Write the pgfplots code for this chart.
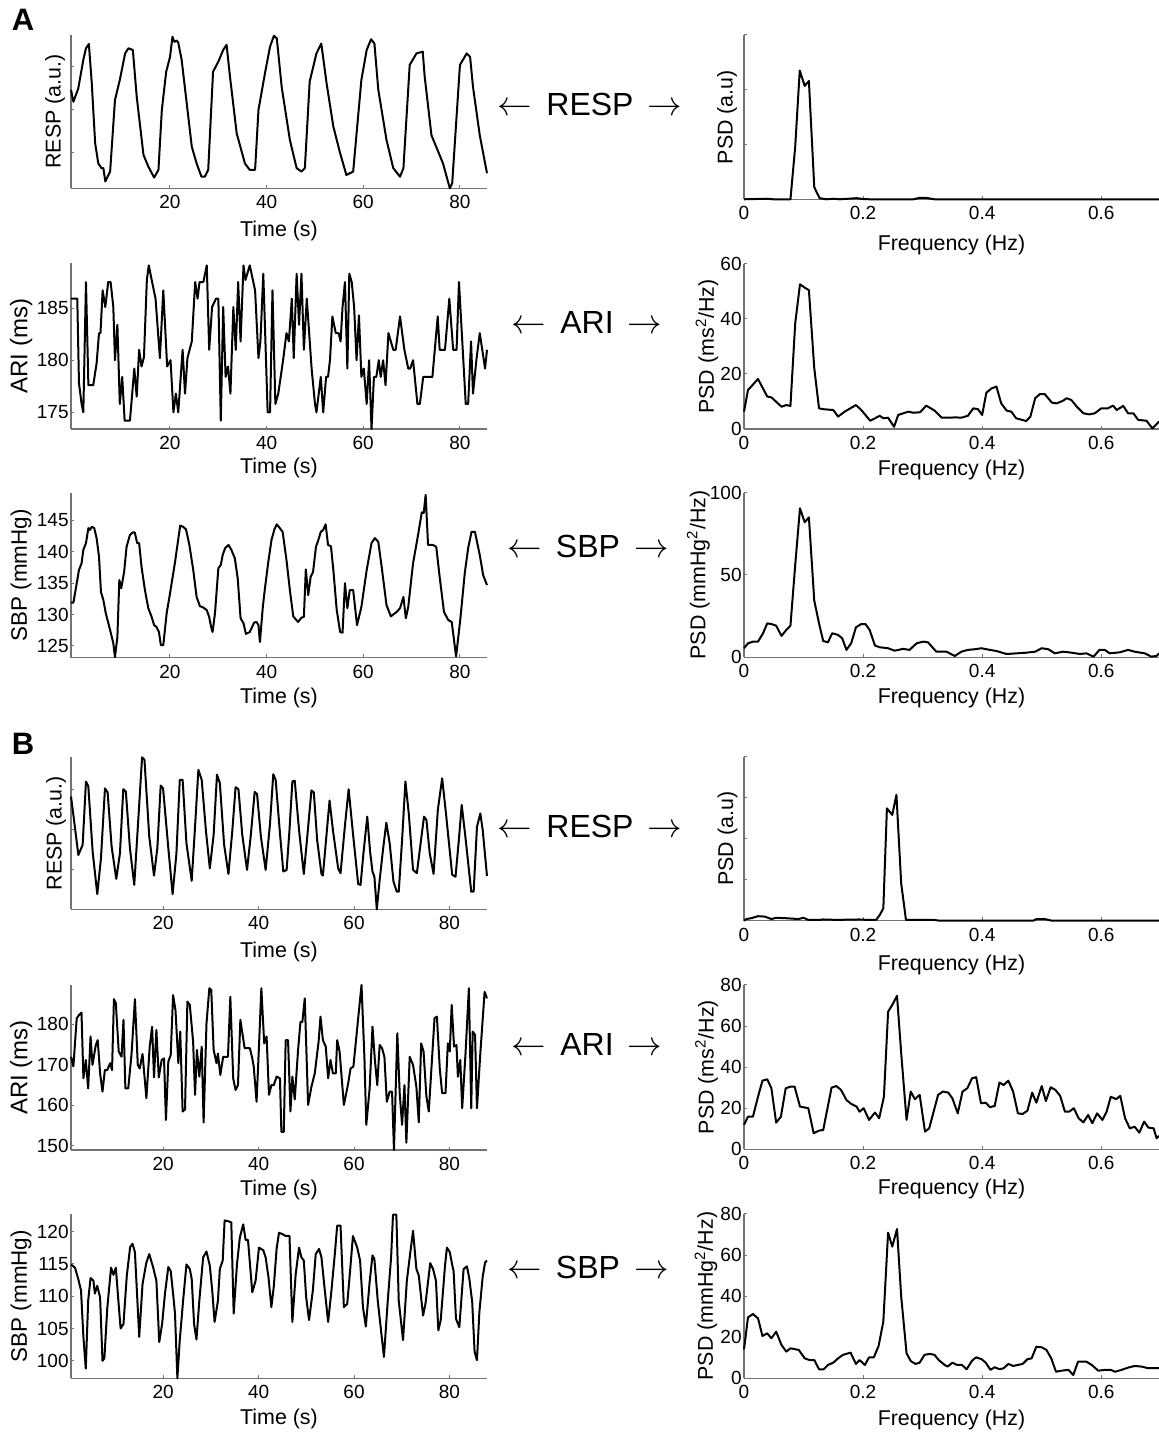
\documentclass[border=0pt]{standalone}
\usepackage{fontspec}
\setmainfont{Liberation Sans}
\usepackage{pgfplots}
\pgfplotsset{compat=1.18}
\definecolor{axgray}{gray}{0.45}
\newcommand{\tf}{\fontsize{10.7}{12}\selectfont}
\newcommand{\tkf}{\fontsize{9.5}{11}\selectfont}
\pgfplotsset{
 base/.style={scale only axis, anchor=south west,
   axis x line=bottom, axis y line=left,
   axis line style={-, draw=axgray, line width=0.6pt},
   tick align=inside, major tick length=1.6pt,
   tick style={draw=axgray, line width=0.5pt},
   clip=false,
   tick label style={font=\tkf}, label style={font=\tf},
   /pgf/number format/assume math mode=true,
   xlabel style={at={(axis description cs:0.5,0)}, anchor=center},
   ylabel style={anchor=center},
   yticklabel style={inner xsep=1pt},
 },
 leftA/.style={base, width=208pt, xmin=0, xmax=86.1, xtick={20.48,40.48,60.48,80.48}, xticklabels={20,40,60,80}, xlabel={Time (s)}},
 leftB/.style={base, width=208pt, xmin=0, xmax=87.2, xtick={19.33,39.33,59.33,79.33}, xticklabels={20,40,60,80}, xlabel={Time (s)}},
 rightax/.style={base, width=207.5pt, xmin=0, xmax=0.697, xtick={0,0.2,0.4,0.6}, xticklabels={0,0.2,0.4,0.6}, xlabel={Frequency (Hz)}},
 sig/.style={black, line width=1pt, line join=round, mark=none},
}
\begin{document}
\begin{tikzpicture}
\useasboundingbox (0,0) rectangle (579.5pt,717pt);

% ---------------- A ----------------
\node[font=\fontsize{15.5}{16}\selectfont\bfseries] at (11.5pt,707pt) {A};
\node[font=\fontsize{16}{18}\selectfont] at (295pt,664.5pt) {$\leftarrow$\hspace{7pt}RESP\hspace{7pt}$\rightarrow$};
\node[font=\fontsize{16}{18}\selectfont] at (293.5pt,555.5pt) {$\leftarrow$\hspace{7pt}ARI\hspace{7pt}$\rightarrow$};
\node[font=\fontsize{16}{18}\selectfont] at (294pt,444pt) {$\leftarrow$\hspace{7pt}SBP\hspace{7pt}$\rightarrow$};

% A RESP time
\begin{axis}[leftA, at={(35.5pt,622.85pt)}, height=76.65pt, ymin=0.16, ymax=3.74, ytick={1,2,3}, yticklabels={}, ylabel={RESP (a.u.)}, ylabel style={at={(axis description cs:-0.0385,0.5)}}, xlabel style={yshift=-21.35pt}]
\addplot[sig] coordinates {(0,2.46)(0.5,2.18)(1.5,2.49)(2.55,3.16)(3.1,3.43)(3.7,3.53)(4.3,2.61)(5.0,1.21)(5.65,0.74)(6.3,0.63)(6.7,0.63)(7.1,0.32)(8.1,0.55)(9.1,2.22)(10.1,2.69)(11.2,3.31)(11.9,3.43)(12.8,3.39)(13.6,2.30)(15.0,0.94)(16.0,0.67)(17.2,0.41)(18.1,0.59)(18.8,1.99)(19.7,2.88)(20.5,3.23)(21.0,3.70)(21.4,3.58)(21.9,3.61)(22.2,3.56)(22.9,3.16)(25.0,1.13)(26.0,0.74)(27.0,0.43)(27.7,0.43)(28.4,0.59)(29.4,2.88)(30.5,3.12)(31.5,3.39)(32.2,3.51)(32.9,2.77)(34.3,1.44)(36.0,0.74)(37.0,0.59)(38.1,0.59)(38.8,1.99)(40.2,2.88)(41.2,3.47)(42.0,3.72)(42.6,3.66)(43.6,2.53)(45.3,1.29)(46.7,0.63)(47.7,0.55)(48.4,0.63)(49.4,2.65)(50.8,3.31)(51.8,3.54)(52.9,2.61)(54.3,1.60)(55.7,0.98)(57.0,0.47)(58.4,0.55)(60.1,2.69)(61.2,3.39)(62.1,3.64)(62.8,3.54)(63.6,2.46)(65.3,1.29)(66.7,0.63)(68.1,0.43)(68.8,0.63)(70.1,3.04)(71.5,3.31)(72.8,3.35)(73.2,2.77)(74.6,1.40)(77.0,0.74)(78.4,0.16)(78.9,0.28)(80.5,3.04)(81.9,3.31)(82.6,3.23)(83.2,2.53)(84.6,1.40)(86.1,0.51)};
\end{axis}

% A RESP PSD
\begin{axis}[rightax, at={(372pt,617.35pt)}, height=82.15pt, ymin=0, ymax=3, ytick={0,1,2,3}, yticklabels={}, ylabel={PSD (a.u)}, ylabel style={at={(axis description cs:-0.041,0.5)}}, xlabel style={yshift=-22.85pt}]
\addplot[sig] coordinates {(0,0)(0.0375,0.01)(0.049,0)(0.078,0)(0.086,0.96)(0.0936,2.35)(0.102,2.07)(0.109,2.16)(0.118,0.22)(0.127,0.02)(0.138,0)(0.15,0.01)(0.161,0)(0.189,0.02)(0.2,0.005)(0.211,0)(0.284,0)(0.295,0.025)(0.306,0.025)(0.32,0)(0.697,0)};
\end{axis}

% A ARI time
\begin{axis}[leftA, at={(35.5pt,502.5pt)}, height=82.85pt, ymin=173.4, ymax=189.3, ytick={175,180,185}, yticklabels={175,180,185}, ylabel={ARI (ms)}, ylabel style={at={(axis description cs:-0.12,0.5)}, font=\fontsize{12}{14}\selectfont}, xlabel style={yshift=-19.65pt}]
\addplot[sig] coordinates {(0,185.9)(1.3,185.9)(1.65,177.8)(2.2,175.8)(2.55,175.0)(3.1,187.5)(3.6,177.6)(4.6,177.6)(5.3,179.7)(5.8,182.6)(6.1,182.6)(6.55,186.7)(7.1,185.1)(7.7,187.5)(8.2,187.5)(8.76,185.1)(9.1,180.0)(9.6,183.4)(10.1,175.8)(10.6,178.4)(11.1,174.2)(12.2,174.2)(13.1,179.2)(13.6,176.5)(14.1,181.0)(14.6,179.4)(15.1,180.3)(15.7,187.7)(16.1,189.1)(16.7,187.7)(17.5,185.9)(18.4,180.2)(19.1,186.7)(19.9,179.4)(20.6,180.0)(21.2,175.0)(21.7,176.8)(22.2,175.0)(23.1,181.0)(23.6,176.8)(24.1,180.2)(25.0,181.8)(25.7,187.5)(26.2,185.9)(26.6,187.5)(27.4,187.5)(28.1,189.1)(28.6,181.0)(29.2,185.1)(30.0,185.9)(30.5,185.9)(31.0,174.2)(31.5,185.1)(32.0,178.4)(32.5,179.4)(33.0,176.8)(33.6,185.1)(34.1,181.0)(34.6,187.5)(35.1,181.8)(35.7,189.1)(36.1,187.7)(37.0,189.1)(38.1,186.7)(38.8,180.2)(39.2,181.8)(39.8,188.3)(40.7,175.0)(41.2,175.0)(41.7,186.7)(42.3,175.8)(42.9,176.8)(43.9,180.0)(44.6,182.6)(45.1,181.8)(45.7,185.9)(46.1,180.2)(46.7,188.3)(47.2,183.4)(47.7,188.3)(48.2,181.0)(48.8,185.9)(49.8,179.2)(50.5,175.8)(50.8,175.0)(51.7,178.4)(52.2,175.0)(52.8,178.4)(53.2,178.4)(53.6,180.0)(54.1,184.2)(54.8,182.6)(55.4,182.6)(55.8,181.8)(56.2,185.1)(56.7,187.5)(57.2,179.2)(57.6,188.3)(58.1,187.5)(58.6,185.1)(59.1,180.0)(59.6,184.3)(60.1,178.4)(60.6,179.2)(61.2,175.8)(61.7,180.0)(62.2,173.4)(62.7,178.4)(63.2,178.4)(63.7,180.0)(64.1,178.4)(64.6,180.0)(65.1,177.6)(65.7,182.6)(66.7,181.0)(67.2,181.0)(68.1,184.2)(69.0,181.0)(69.8,179.2)(70.2,179.2)(70.8,180.0)(71.7,175.8)(72.2,175.8)(72.9,178.4)(74.8,178.4)(75.9,184.2)(76.3,181.0)(77.4,181.0)(78.3,185.9)(79.1,181.0)(79.8,181.0)(80.3,187.5)(81.2,180.0)(81.7,175.8)(82.2,175.8)(82.8,181.8)(83.2,176.8)(83.9,180.0)(84.6,182.6)(85.7,179.2)(86.1,181.0)};
\end{axis}

% A ARI PSD
\begin{axis}[rightax, at={(372pt,502.5pt)}, height=82.5pt, ymin=0, ymax=60, ytick={0,20,40,60}, yticklabels={0,20,40,60}, ylabel={PSD (ms\textsuperscript{2}/Hz)}, ylabel style={at={(axis description cs:-0.0892,0.5)}}, xlabel style={yshift=-20.5pt}]
\addplot[sig] coordinates {(0,6.3)(0.0067,14.2)(0.012,15.4)(0.0235,18.2)(0.039,11.8)(0.046,11.5)(0.054,9.9)(0.063,8.1)(0.071,8.7)(0.078,8.4)(0.086,38.4)(0.094,52.6)(0.102,51.4)(0.109,50.5)(0.118,22.1)(0.126,7.5)(0.133,7.2)(0.15,6.9)(0.158,4.5)(0.169,6.3)(0.188,8.7)(0.197,6.9)(0.212,3.0)(0.228,4.8)(0.234,3.9)(0.242,4.1)(0.252,0.8)(0.259,5.1)(0.276,6.3)(0.284,5.9)(0.296,6.1)(0.306,8.5)(0.32,6.7)(0.332,4.1)(0.357,4.2)(0.365,4.1)(0.376,4.8)(0.385,7.5)(0.393,7.2)(0.4,5.1)(0.407,13.2)(0.416,14.8)(0.424,15.4)(0.432,9.3)(0.441,6.7)(0.449,6.3)(0.457,3.9)(0.474,2.9)(0.481,4.5)(0.489,11.2)(0.497,12.7)(0.505,12.7)(0.517,9.6)(0.525,9.3)(0.536,10.3)(0.542,11.2)(0.55,10.5)(0.559,8.1)(0.57,5.7)(0.58,5.3)(0.589,5.7)(0.6,7.5)(0.611,7.5)(0.62,8.5)(0.626,6.9)(0.637,8.4)(0.645,5.7)(0.654,5.7)(0.662,3.3)(0.676,3.0)(0.686,0.2)(0.697,2.7)};
\end{axis}

% A SBP time
\begin{axis}[leftA, at={(35.5pt,388.15pt)}, height=82.35pt, ymin=123.1, ymax=149.4, ytick={125,130,135,140,145}, yticklabels={125,130,135,140,145}, ylabel={SBP (mmHg)}, ylabel style={at={(axis description cs:-0.12,0.5)}, font=\fontsize{11.2}{13}\selectfont}, xlabel style={yshift=-20.3pt}]
\addplot[sig] coordinates {(0,131.9)(0.5,131.9)(1.3,135.5)(1.65,137.1)(2.2,138.2)(2.55,140.3)(3.1,141.4)(3.6,143.8)(3.9,143.5)(4.3,144.0)(4.8,143.8)(5.3,142.2)(5.8,139.2)(6.2,133.6)(6.7,132.3)(7.2,130.2)(8.1,127.5)(8.76,125.4)(9.1,123.2)(9.6,126.4)(10.0,135.5)(10.4,134.2)(11.0,136.8)(11.5,140.8)(12.2,142.7)(12.8,143.1)(13.2,143.1)(13.7,141.4)(14.1,141.4)(14.6,137.6)(15.3,133.9)(16.0,131.0)(16.7,129.6)(17.2,128.3)(17.7,128.0)(18.2,127.2)(18.6,125.1)(19.1,125.1)(19.8,130.2)(20.5,133.4)(21.5,138.2)(22.6,144.2)(23.2,144.0)(23.8,143.6)(24.5,141.1)(25.3,137.1)(26.0,132.8)(26.7,131.3)(27.2,131.2)(28.1,130.7)(28.6,129.6)(29.0,128.0)(29.3,127.2)(29.8,130.2)(30.5,137.4)(31.0,137.9)(31.4,139.5)(31.9,140.6)(32.6,141.1)(33.2,140.3)(33.9,139.0)(34.5,135.8)(35.1,129.4)(35.7,128.6)(36.2,126.9)(37.0,127.2)(37.9,128.7)(38.4,128.8)(38.8,128.3)(39.1,125.6)(39.7,131.2)(40.1,133.9)(40.8,138.2)(41.5,141.9)(42.1,143.6)(42.6,144.4)(43.2,143.8)(43.8,143.2)(44.6,138.7)(45.3,133.9)(46.0,129.7)(47.0,128.8)(47.7,129.5)(48.2,129.6)(48.6,137.2)(49.1,133.1)(49.6,136.0)(50.1,136.8)(50.7,140.8)(51.2,141.9)(51.7,143.2)(52.2,143.5)(52.7,144.4)(53.2,141.1)(53.8,140.9)(54.3,137.1)(55.0,130.7)(55.7,127.2)(56.2,127.1)(56.7,135.0)(57.2,131.0)(57.7,133.9)(58.4,133.9)(59.2,128.3)(60.1,131.2)(61.2,137.1)(62.2,141.4)(62.9,142.2)(63.6,141.6)(64.3,137.6)(65.3,131.5)(66.2,129.7)(67.4,130.4)(68.1,131.0)(68.8,132.8)(69.3,129.4)(69.8,131.2)(70.8,138.2)(71.9,143.0)(72.6,146.3)(73.0,146.2)(73.4,149.1)(73.9,141.1)(74.9,141.1)(75.6,140.8)(76.3,136.0)(77.2,130.4)(78.1,129.1)(78.8,128.8)(79.7,123.3)(80.6,129.4)(81.5,136.6)(82.2,140.6)(82.9,143.2)(83.6,143.2)(84.6,139.5)(85.3,136.3)(86.1,134.7)};
\end{axis}

% A SBP PSD
\begin{axis}[rightax, at={(372pt,388.35pt)}, height=82.3pt, ymin=0, ymax=100, ytick={0,50,100}, yticklabels={0,50,100}, ylabel={PSD (mmHg\textsuperscript{2}/Hz)}, ylabel style={at={(axis description cs:-0.11,0.5)}}, xlabel style={yshift=-20.5pt}]
\addplot[sig] coordinates {(0,5.5)(0.0067,8.5)(0.015,9.5)(0.0235,9.5)(0.032,14.6)(0.039,20.6)(0.046,20.2)(0.054,19.2)(0.063,13.0)(0.071,16.6)(0.078,19.2)(0.086,56.1)(0.094,90.5)(0.102,82.0)(0.109,85.0)(0.118,34.4)(0.126,20.6)(0.133,9.9)(0.141,9.1)(0.148,14.6)(0.158,13.6)(0.165,11.5)(0.172,4.5)(0.18,8.5)(0.188,18.2)(0.197,20.2)(0.204,20.2)(0.211,16.6)(0.22,7.1)(0.228,6.1)(0.242,5.5)(0.253,4.0)(0.267,5.1)(0.278,4.5)(0.29,8.5)(0.301,9.5)(0.309,9.1)(0.323,3.4)(0.34,3.4)(0.354,0.8)(0.365,3.4)(0.376,4.5)(0.388,4.9)(0.399,5.5)(0.407,4.9)(0.424,3.8)(0.441,2.0)(0.458,2.4)(0.474,2.8)(0.489,3.4)(0.5,5.5)(0.511,4.9)(0.522,2.4)(0.536,3.4)(0.55,2.8)(0.564,2.0)(0.575,2.4)(0.587,0.4)(0.597,4.5)(0.606,4.5)(0.614,2.4)(0.631,3.0)(0.645,4.5)(0.656,3.4)(0.673,2.4)(0.684,0.4)(0.693,0.8)(0.697,2.4)};
\end{axis}

% ---------------- B ----------------
\node[font=\fontsize{15.5}{16}\selectfont\bfseries] at (11.5pt,345pt) {B};
\node[font=\fontsize{16}{18}\selectfont] at (295pt,304pt) {$\leftarrow$\hspace{7pt}RESP\hspace{7pt}$\rightarrow$};
\node[font=\fontsize{16}{18}\selectfont] at (293.5pt,195pt) {$\leftarrow$\hspace{7pt}ARI\hspace{7pt}$\rightarrow$};
\node[font=\fontsize{16}{18}\selectfont] at (294pt,83.5pt) {$\leftarrow$\hspace{7pt}SBP\hspace{7pt}$\rightarrow$};

% B RESP time
\begin{axis}[leftB, at={(35.5pt,262.35pt)}, height=76pt, ymin=0.025, ymax=3.79, ytick={1,2,3}, yticklabels={}, ylabel={RESP (a.u.)}, ylabel style={at={(axis description cs:-0.036,0.5)}}, xlabel style={yshift=-21.2pt}]
\addplot[sig] coordinates {(0,2.82)(0.63,2.24)(1.54,1.37)(2.44,1.62)(3.14,3.19)(3.63,3.07)(4.54,1.45)(5.51,0.40)(6.28,1.29)(7.12,3.02)(7.68,2.92)(8.51,1.58)(9.49,0.78)(10.26,1.41)(10.96,3.0)(11.5,2.94)(12.35,1.54)(13.26,0.63)(14.1,2.24)(14.9,3.79)(15.4,3.73)(16.4,1.83)(17.4,0.86)(18.1,1.54)(18.8,3.09)(19.3,3.02)(20.4,1.54)(21.3,0.40)(22.1,1.41)(22.8,3.23)(23.4,3.23)(24.2,1.66)(25.3,0.73)(25.96,1.99)(26.7,3.48)(27.4,3.23)(28.3,1.95)(29.1,1.04)(29.9,1.87)(30.6,3.36)(31.2,3.15)(32.1,1.62)(33.0,0.90)(33.8,1.95)(34.5,3.05)(35.1,3.0)(35.9,1.87)(36.9,1.0)(37.7,1.87)(38.5,2.93)(39.0,2.88)(39.8,1.83)(40.8,1.0)(41.7,2.12)(42.4,3.37)(42.9,3.23)(43.8,1.91)(44.5,0.96)(45.2,1.0)(45.8,1.99)(46.4,3.19)(46.9,3.21)(47.8,1.99)(48.8,0.90)(49.5,1.79)(50.4,2.97)(50.9,2.92)(51.6,1.74)(52.5,0.90)(52.8,0.86)(53.5,1.79)(54.2,2.72)(54.9,1.99)(56.0,1.04)(56.5,0.92)(57.4,2.07)(58.2,3.0)(59.1,1.91)(60.2,0.65)(60.7,0.63)(61.3,1.41)(62.1,2.32)(62.7,1.45)(63.2,0.96)(63.6,0.83)(64.1,0.025)(64.7,0.75)(65.4,1.50)(66.1,2.17)(66.8,1.66)(67.6,0.71)(68.3,0.46)(68.7,0.46)(69.4,1.74)(70.1,3.19)(70.8,2.40)(71.7,1.0)(72.5,0.92)(73.2,1.58)(74.0,2.32)(74.5,2.24)(75.2,1.41)(76.0,0.90)(76.9,2.49)(77.8,3.27)(78.6,2.40)(79.9,0.88)(80.6,0.83)(81.3,1.74)(81.9,2.61)(82.7,1.79)(83.9,0.46)(84.4,0.46)(85.1,2.07)(85.8,2.40)(86.3,1.99)(87.2,0.85)};
\end{axis}

% B RESP PSD
\begin{axis}[rightax, at={(372pt,256.65pt)}, height=82pt, ymin=0, ymax=4, ytick={0,1,2,3,4}, yticklabels={}, ylabel={PSD (a.u)}, ylabel style={at={(axis description cs:-0.0398,0.5)}}, xlabel style={yshift=-22.15pt}]
\addplot[sig] coordinates {(0,0)(0.004,0.04)(0.012,0.06)(0.0235,0.11)(0.035,0.10)(0.046,0.04)(0.054,0.07)(0.071,0.06)(0.091,0.04)(0.1,0.07)(0.108,0.02)(0.127,0.02)(0.133,0.03)(0.155,0.02)(0.194,0.03)(0.206,0.02)(0.222,0.02)(0.228,0.14)(0.234,0.30)(0.24,2.74)(0.249,2.58)(0.256,3.07)(0.264,0.91)(0.272,0.02)(0.284,0.02)(0.318,0.02)(0.329,0)(0.486,0)(0.491,0.04)(0.505,0.04)(0.517,0)(0.697,0)};
\end{axis}

% B ARI time
\begin{axis}[leftB, at={(35.5pt,142pt)}, height=82.5pt, ymin=149.0, ymax=189.7, ytick={150,160,170,180}, yticklabels={150,160,170,180}, ylabel={ARI (ms)}, ylabel style={at={(axis description cs:-0.12,0.5)}, font=\fontsize{12}{14}\selectfont}, xlabel style={yshift=-20pt}]
\addplot[sig] coordinates {(0,172.0)(0.5,169.6)(1.2,181.5)(1.7,182.3)(2.2,182.9)(2.6,166.7)(3.1,171.2)(3.6,164.2)(4.1,177.0)(4.5,170.0)(5.2,174.9)(5.6,176.1)(6.1,167.9)(6.6,163.4)(7.1,168.7)(7.6,168.7)(8.2,170.4)(8.6,168.7)(9.0,186.2)(9.4,185.2)(10.0,173.3)(10.6,172.0)(11.0,181.1)(11.4,164.2)(12.0,164.2)(12.7,172.8)(13.4,186.2)(14.0,170.0)(14.4,169.1)(15.0,172.7)(15.8,161.8)(16.5,174.5)(17.0,179.4)(17.4,166.9)(17.9,178.6)(18.4,166.9)(19.0,171.2)(19.5,171.6)(19.9,156.4)(20.4,170.8)(20.9,172.4)(21.4,187.2)(21.9,183.5)(22.5,170.4)(22.9,178.2)(23.4,158.5)(23.9,159.0)(24.4,185.6)(24.9,184.8)(25.6,175.7)(26.0,162.6)(26.4,173.7)(26.9,167.1)(27.4,174.5)(27.8,155.8)(28.4,180.2)(29.0,188.9)(29.4,188.5)(29.9,173.7)(30.5,170.4)(30.8,172.8)(31.3,167.5)(31.9,172.0)(32.9,172.0)(33.4,186.8)(34.0,166.7)(34.5,163.8)(35.0,165.0)(35.5,181.1)(36.4,174.1)(37.5,174.1)(38.0,171.6)(38.3,169.6)(38.9,160.9)(39.4,174.5)(39.9,188.9)(40.5,175.3)(41.0,177.0)(41.5,162.6)(42.0,165.0)(42.5,165.0)(43.1,167.1)(43.8,166.7)(44.1,153.5)(44.6,153.5)(45.0,176.1)(45.5,176.1)(46.0,158.5)(46.4,167.1)(46.9,161.5)(47.6,173.7)(48.1,180.6)(48.5,180.6)(49.0,186.4)(49.7,160.1)(50.4,164.6)(51.1,167.9)(51.9,175.7)(52.3,181.9)(52.8,176.1)(53.4,174.5)(53.9,166.7)(54.4,171.2)(54.9,167.9)(55.5,167.9)(55.8,176.1)(56.3,173.3)(57.2,160.1)(58.1,165.4)(58.6,169.1)(59.2,169.6)(60.2,181.5)(60.9,189.7)(61.5,172.0)(61.9,155.2)(62.6,164.2)(63.2,179.4)(63.7,171.2)(64.2,165.0)(64.7,174.9)(65.2,174.1)(65.7,172.0)(66.2,160.9)(66.8,163.4)(67.3,163.4)(67.7,149.0)(68.4,177.8)(68.9,163.0)(69.4,155.2)(69.9,165.0)(70.3,150.8)(71.0,172.0)(71.7,170.0)(72.4,164.6)(72.9,155.8)(73.4,175.3)(73.9,173.3)(74.5,162.2)(75.0,158.5)(76.2,181.5)(76.7,181.9)(77.3,169.1)(77.8,163.0)(78.5,163.0)(79.0,175.3)(79.4,173.3)(79.8,184.8)(80.3,174.5)(80.8,174.9)(81.1,167.1)(81.6,171.2)(82.0,159.3)(82.7,172.8)(83.4,188.9)(83.9,159.3)(84.2,178.2)(84.7,177.4)(85.1,159.3)(85.8,172.8)(86.7,188.0)(87.2,186.4)};
\end{axis}

% B ARI PSD
\begin{axis}[rightax, at={(372pt,142.35pt)}, height=82.15pt, ymin=0, ymax=80, ytick={0,20,40,60,80}, yticklabels={0,20,40,60,80}, ylabel={PSD (ms\textsuperscript{2}/Hz)}, ylabel style={at={(axis description cs:-0.0899,0.5)}}, xlabel style={yshift=-20pt}]
\addplot[sig] coordinates {(0,11.9)(0.0067,15.9)(0.015,15.9)(0.0235,25.6)(0.031,33.4)(0.039,34.1)(0.046,29.7)(0.054,13.0)(0.062,15.9)(0.07,29.7)(0.078,30.5)(0.085,30.5)(0.094,20.8)(0.108,20.0)(0.117,7.8)(0.126,9.1)(0.133,9.4)(0.147,30.0)(0.155,30.8)(0.163,28.9)(0.172,24.0)(0.18,22.1)(0.189,20.8)(0.194,18.3)(0.201,20.0)(0.21,14.3)(0.22,17.9)(0.227,15.1)(0.235,25.6)(0.242,67.0)(0.249,70.3)(0.257,74.7)(0.264,46.8)(0.273,14.3)(0.28,28.1)(0.287,24.4)(0.295,26.5)(0.304,8.6)(0.311,10.2)(0.326,26.5)(0.334,28.1)(0.343,27.6)(0.35,24.8)(0.359,17.5)(0.367,28.1)(0.375,29.7)(0.383,34.6)(0.39,35.1)(0.398,22.4)(0.406,22.7)(0.413,20.5)(0.421,21.1)(0.429,32.5)(0.436,31.3)(0.444,33.4)(0.452,28.1)(0.46,17.5)(0.468,17.2)(0.476,18.8)(0.484,27.6)(0.491,22.7)(0.5,30.8)(0.507,23.5)(0.515,30.2)(0.523,28.9)(0.531,26.0)(0.539,18.3)(0.546,18.3)(0.554,20.0)(0.562,15.1)(0.57,13.1)(0.578,16.7)(0.585,12.7)(0.593,17.5)(0.602,14.3)(0.609,18.3)(0.616,25.6)(0.625,24.4)(0.632,26.0)(0.64,15.1)(0.648,10.2)(0.656,11.0)(0.664,8.1)(0.672,13.5)(0.679,10.6)(0.688,10.2)(0.693,5.4)(0.697,6.5)};
\end{axis}

% B SBP time
\begin{axis}[leftB, at={(35.5pt,27.85pt)}, height=82.15pt, ymin=97.3, ymax=122.7, ytick={100,105,110,115,120}, yticklabels={100,105,110,115,120}, ylabel={SBP (mmHg)}, ylabel style={at={(axis description cs:-0.12,0.5)}, font=\fontsize{11.2}{13}\selectfont}, xlabel style={yshift=-20.5pt}]
\addplot[sig] coordinates {(0,114.9)(0.84,114.4)(1.5,112.7)(2.1,110.9)(2.6,103.7)(3.1,98.8)(3.6,109.3)(4.1,112.8)(4.7,112.4)(5.0,110.4)(5.5,111.6)(6.1,109.8)(6.6,100.0)(7.0,100.4)(7.6,108.1)(8.4,114.4)(8.9,113.3)(9.4,114.4)(9.9,109.6)(10.4,105.0)(11.0,105.7)(11.7,113.2)(12.4,117.6)(12.9,118.1)(13.4,116.8)(14.3,103.7)(15.0,111.9)(15.8,115.2)(16.4,116.5)(17.2,114.5)(17.9,112.4)(18.5,102.9)(19.1,105.7)(19.7,110.4)(20.4,114.5)(20.9,113.9)(21.4,110.4)(21.8,107.3)(22.3,97.3)(22.8,103.2)(23.5,109.3)(24.2,114.9)(24.9,114.2)(25.3,112.7)(25.8,105.7)(26.3,103.3)(26.9,109.3)(27.7,116.0)(28.4,116.9)(29.1,114.7)(29.6,110.9)(30.1,106.0)(30.8,109.3)(31.2,114.2)(31.8,115.5)(32.2,121.7)(32.9,121.6)(33.6,121.4)(34.1,107.3)(34.8,115.0)(35.4,119.1)(36.1,121.1)(36.6,118.7)(37.1,118.7)(38.0,110.6)(38.7,112.4)(39.4,117.5)(40.3,117.1)(40.8,116.0)(41.4,112.9)(42.0,108.3)(42.5,111.4)(43.1,117.3)(43.6,119.8)(44.3,119.6)(45.0,119.3)(45.8,119.3)(46.4,106.0)(47.1,113.4)(47.8,117.5)(48.3,116.0)(48.8,115.5)(49.3,109.8)(49.9,106.3)(50.7,110.9)(51.3,116.5)(52.0,117.3)(52.5,116.0)(53.2,110.9)(53.9,106.0)(54.6,110.9)(55.3,116.5)(55.8,120.9)(56.5,120.9)(57.2,108.3)(57.9,108.8)(58.5,113.9)(59.1,119.3)(60.0,117.5)(60.6,115.5)(61.2,108.3)(61.8,105.3)(62.6,112.2)(63.2,116.3)(63.6,115.7)(64.3,109.3)(65.6,100.6)(66.4,109.3)(67.1,116.0)(67.5,122.6)(68.2,122.6)(68.7,109.3)(69.6,103.2)(70.4,112.4)(71.0,116.0)(71.7,120.1)(72.4,114.2)(72.9,113.2)(73.8,107.0)(74.3,108.8)(75.3,115.1)(75.9,114.2)(76.5,112.4)(77.0,104.7)(77.5,106.3)(78.4,114.7)(78.8,117.5)(79.4,116.8)(80.0,114.5)(80.2,113.9)(80.7,106.5)(81.4,105.2)(82.3,114.2)(83.0,114.6)(83.5,112.7)(84.1,109.1)(84.6,101.4)(85.1,100.1)(85.6,107.5)(86.3,113.0)(86.8,115.2)(87.2,115.5)};
\end{axis}

% B SBP PSD
\begin{axis}[rightax, at={(372pt,27.85pt)}, height=82.15pt, ymin=0, ymax=80, ytick={0,20,40,60,80}, yticklabels={0,20,40,60,80}, ylabel={PSD (mmHg\textsuperscript{2}/Hz)}, ylabel style={at={(axis description cs:-0.0916,0.5)}}, xlabel style={yshift=-20.85pt}]
\addplot[sig] coordinates {(0,14.1)(0.0067,29.7)(0.015,31.3)(0.0235,29.2)(0.031,20.6)(0.039,21.9)(0.046,19.5)(0.054,22.7)(0.063,16.2)(0.071,13.0)(0.078,14.6)(0.092,13.8)(0.102,9.7)(0.11,8.9)(0.118,8.9)(0.126,4.4)(0.134,4.4)(0.141,6.5)(0.15,7.6)(0.158,9.7)(0.166,11.4)(0.179,12.5)(0.188,7.0)(0.194,8.9)(0.203,6.5)(0.21,10.2)(0.218,10.2)(0.226,15.7)(0.234,27.6)(0.242,70.9)(0.249,64.1)(0.257,72.7)(0.264,39.8)(0.273,12.2)(0.28,8.4)(0.288,7.0)(0.295,7.6)(0.303,11.4)(0.312,11.9)(0.32,11.4)(0.327,8.9)(0.337,6.5)(0.342,5.7)(0.35,7.6)(0.358,6.5)(0.366,6.5)(0.374,4.4)(0.383,8.6)(0.39,10.2)(0.399,9.3)(0.406,7.6)(0.414,4.1)(0.421,5.4)(0.429,4.4)(0.436,4.9)(0.444,7.0)(0.452,6.0)(0.46,6.5)(0.468,7.0)(0.476,9.3)(0.483,9.7)(0.491,15.4)(0.5,15.1)(0.508,13.8)(0.516,9.7)(0.524,3.2)(0.533,3.7)(0.545,4.1)(0.553,1.6)(0.561,8.1)(0.575,8.1)(0.584,6.5)(0.595,3.7)(0.606,4.1)(0.616,4.1)(0.623,3.2)(0.634,4.1)(0.645,5.2)(0.656,6.0)(0.668,5.7)(0.679,4.9)(0.687,4.9)(0.697,4.9)};
\end{axis}
\end{tikzpicture}
\end{document}
